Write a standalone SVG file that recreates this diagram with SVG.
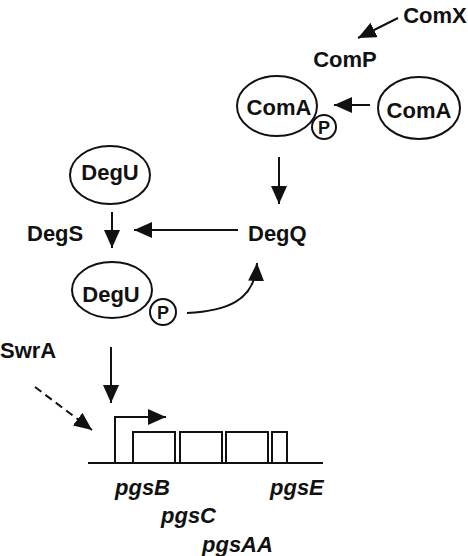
<svg xmlns="http://www.w3.org/2000/svg" width="468" height="556" viewBox="0 0 468 556">
<style>
text{font-family:"Liberation Sans",Arial,sans-serif;font-weight:bold;font-size:22px;fill:#111}
.c{text-anchor:middle}
.i{font-style:italic}
.p{font-size:18px;text-anchor:middle}
.sh{fill:#fff;stroke:#111;stroke-width:2}
.ln{fill:none;stroke:#111;stroke-width:2}
</style>
<defs>
<marker id="ah" markerUnits="userSpaceOnUse" markerWidth="20" markerHeight="16" refX="18" refY="8" orient="auto">
<path d="M0,0 L18,8 L0,16 z" fill="#111"/>
</marker>
</defs>
<rect width="468" height="556" fill="#fff"/>
<g id="connectors">
<line class="ln" x1="398" y1="18" x2="358" y2="38" marker-end="url(#ah)"/>
<line class="ln" x1="370" y1="105" x2="334" y2="105" marker-end="url(#ah)"/>
<line class="ln" x1="279" y1="157" x2="279" y2="204" marker-end="url(#ah)"/>
<line class="ln" x1="238" y1="230" x2="134" y2="230" marker-end="url(#ah)"/>
<line class="ln" x1="112" y1="212" x2="112" y2="248" marker-end="url(#ah)"/>
<path class="ln" d="M187,313 C225,311 255,302 257,263" marker-end="url(#ah)"/>
<line class="ln" x1="111" y1="347" x2="111" y2="403" marker-end="url(#ah)"/>
<line class="ln" x1="35" y1="387" x2="92" y2="430" stroke-dasharray="8,5" marker-end="url(#ah)"/>
</g>
<g id="ComX"><text class="c" x="435" y="23">ComX</text></g>
<g id="ComP"><text class="c" x="345" y="67">ComP</text></g>
<g id="ComA-P">
<ellipse class="sh" cx="277" cy="106" rx="40" ry="30"/>
<text class="c" x="279" y="115">ComA</text>
<circle class="sh" cx="324" cy="127" r="12"/>
<text class="p" x="324" y="133.5">P</text>
</g>
<g id="ComA">
<ellipse class="sh" cx="419" cy="108" rx="41" ry="31"/>
<text class="c" x="419" y="118">ComA</text>
</g>
<g id="DegU">
<ellipse class="sh" cx="110" cy="175" rx="40" ry="29"/>
<text class="c" x="110" y="180">DegU</text>
</g>
<g id="DegS"><text x="27" y="241">DegS</text></g>
<g id="DegQ"><text x="248" y="241">DegQ</text></g>
<g id="DegU-P">
<ellipse class="sh" cx="112" cy="290" rx="40" ry="28"/>
<text class="c" x="111" y="302">DegU</text>
<circle class="sh" cx="163" cy="312" r="13"/>
<text class="p" x="163" y="318.5">P</text>
</g>
<g id="SwrA"><text x="0" y="358">SwrA</text></g>
<g id="operon">
<line class="ln" x1="88" y1="463" x2="323" y2="463"/>
<path class="ln" d="M115,463 V417 H166" marker-end="url(#ah)"/>
<rect class="sh" x="133" y="432" width="42" height="31"/>
<rect class="sh" x="180" y="432" width="42" height="31"/>
<rect class="sh" x="226" y="432" width="42" height="31"/>
<rect class="sh" x="272" y="432" width="15" height="31"/>
</g>
<g id="pgsB"><text class="i" x="115" y="495">pgsB</text></g>
<g id="pgsC"><text class="i" x="161" y="523">pgsC</text></g>
<g id="pgsAA"><text class="i" x="202" y="552">pgsAA</text></g>
<g id="pgsE"><text class="i" x="270" y="495">pgsE</text></g>
</svg>
